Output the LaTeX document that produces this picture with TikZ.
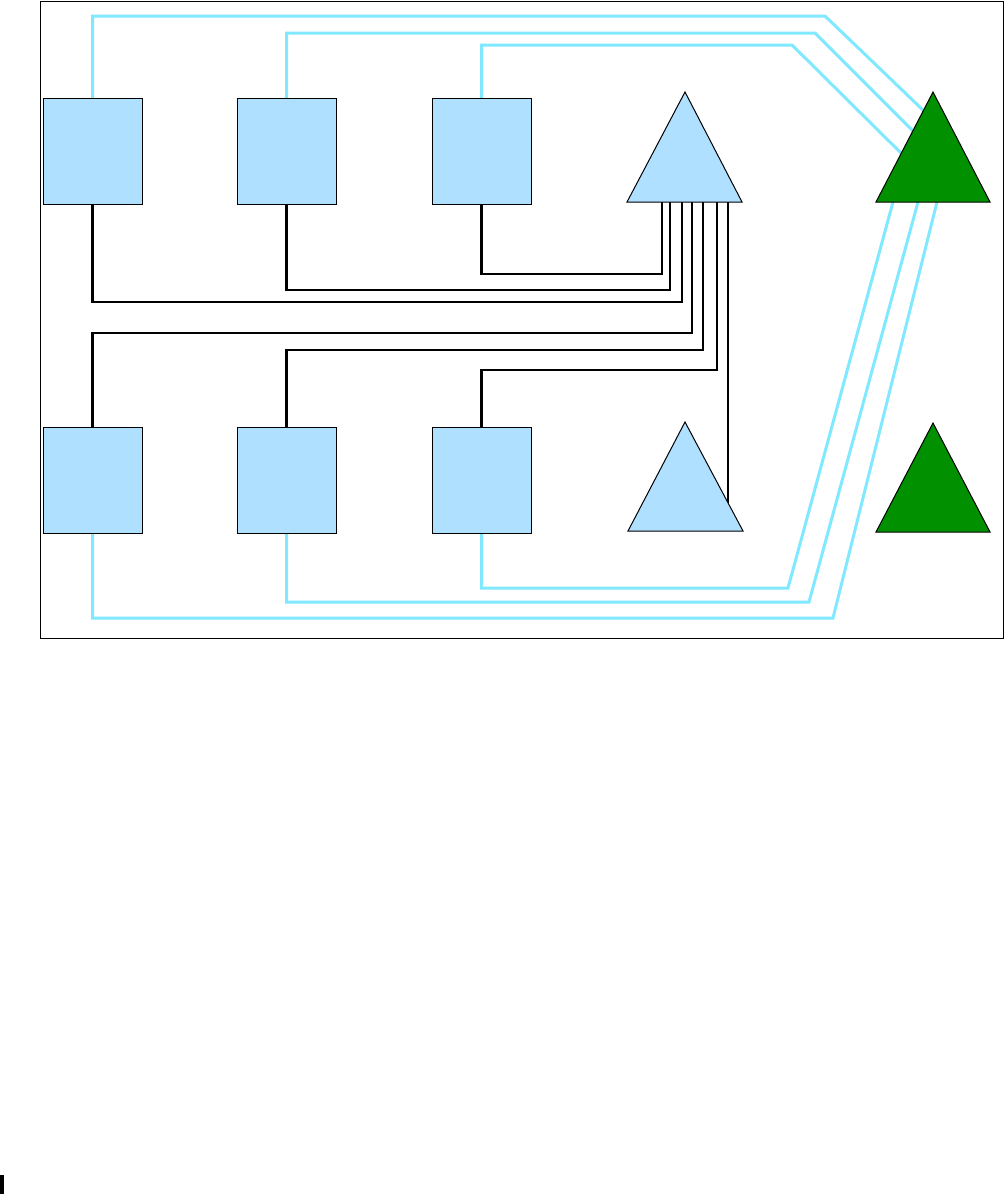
\documentclass[tikz,border=0pt]{standalone}
\usetikzlibrary{backgrounds}
\definecolor{boxblue}{HTML}{B0E0FF}
\definecolor{wire}{HTML}{80E8FF}
\definecolor{treegreen}{HTML}{009000}
\begin{document}
\begin{tikzpicture}[x=1pt,y=-1pt,
  box/.style={draw=black,line width=1pt,fill=boxblue,minimum width=99pt,minimum height=106pt,inner sep=0pt,outer sep=0pt},
  tri/.style={draw=black,line width=1pt,line join=miter},
  cyanw/.style={draw=wire,line width=3pt},
  blk/.style={draw=black,line width=2.4pt}]
\useasboundingbox (0,0) rectangle (1005,1194);
% frame
\draw[line width=1pt] (40,1) rectangle (1003,638);
% boxes
\node[box] (b1) at (92.5,151) {};
\node[box] (b2) at (286.5,151) {};
\node[box] (b3) at (481.5,151) {};
\node[box] (d1) at (92.5,480) {};
\node[box] (d2) at (286.5,480) {};
\node[box] (d3) at (481.5,480) {};
% triangles
\coordinate (ta) at (685,92);
\coordinate (tl) at (627,202);
\coordinate (tr) at (742,202);
\coordinate (ua) at (685,422);
\coordinate (ul) at (628,531);
\coordinate (ur) at (743,531);
\coordinate (ga) at (933,92);
\coordinate (gl) at (876,202);
\coordinate (gr) at (990,202);
\coordinate (ha) at (933,423);
\coordinate (hl) at (876,532);
\coordinate (hr) at (990,532);
\filldraw[tri,fill=boxblue] (tl) -- (ta) -- (tr) -- cycle;
\filldraw[tri,fill=boxblue] (ul) -- (ua) -- (ur) -- cycle;
\filldraw[tri,fill=treegreen] (gl) -- (ga) -- (gr) -- cycle;
\filldraw[tri,fill=treegreen] (hl) -- (ha) -- (hr) -- cycle;
% connector points
\coordinate (t1) at (662,202);
\coordinate (t2) at (670,202);
\coordinate (t3) at (682,202);
\coordinate (t4) at (692,202);
\coordinate (t5) at (703,202);
\coordinate (t6) at (717,202);
\coordinate (t7) at (728,202);
\coordinate (u7) at (728,503);
\coordinate (k1) at (825,16);
\coordinate (k2) at (815,33);
\coordinate (k3) at (792,45);
\coordinate (e1) at (925,112);
\coordinate (e2) at (917,135);
\coordinate (e3) at (905,157);
\coordinate (g1) at (893,202);
\coordinate (g2) at (918,202);
\coordinate (g3) at (937,202);
\coordinate (m3) at (788,588);
\coordinate (m2) at (809,602);
\coordinate (m1) at (833,618);
\begin{scope}[on background layer]
  % black wires
  \draw[blk] (b3.south) -- ++(0,70) -| (t1);
  \draw[blk] (b2.south) -- ++(0,86) -| (t2);
  \draw[blk] (b1.south) -- ++(0,98) -| (t3);
  \draw[blk] (d1.north) -- ++(0,-94) -| (t4);
  \draw[blk] (d2.north) -- ++(0,-77) -| (t5);
  \draw[blk] (d3.north) -- ++(0,-57) -| (t6);
  \draw[blk] (t7) -- (u7);
  % cyan wires top
  \draw[cyanw] (b1.north) |- (k1) -- (e1);
  \draw[cyanw] (b2.north) |- (k2) -- (e2);
  \draw[cyanw] (b3.north) |- (k3) -- (e3);
  % cyan wires bottom
  \draw[cyanw] (d3.south) |- (m3) -- (g1);
  \draw[cyanw] (d2.south) |- (m2) -- (g2);
  \draw[cyanw] (d1.south) |- (m1) -- (g3);
\end{scope}
% stray mark
\fill[black] (0,1175) rectangle (4,1194);
\end{tikzpicture}
\end{document}
